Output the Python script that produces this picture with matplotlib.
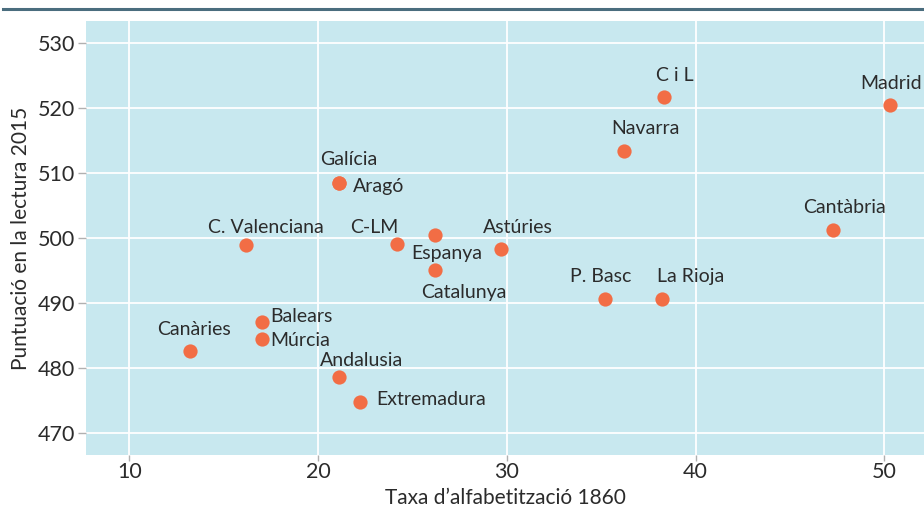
import matplotlib
matplotlib.use("Agg")
import matplotlib.pyplot as plt
from matplotlib.lines import Line2D

plt.rcParams['font.family'] = ['Lato', 'DejaVu Sans']

# ---- data ----
regions = ["Canàries", "Balears", "Múrcia", "C. Valenciana", "Galícia", "Aragó",
           "Andalusia", "Extremadura", "C-LM", "Espanya", "Catalunya", "Astúries",
           "P. Basc", "La Rioja", "Navarra", "C i L", "Cantàbria", "Madrid"]
literacy_1860 = [13.2, 17.0, 17.0, 16.2, 21.1, 21.1,
                 21.1, 22.2, 24.2, 26.2, 26.2, 29.7,
                 35.2, 38.2, 36.2, 38.3, 47.3, 50.3]
reading_2015 = [482.6, 487.0, 484.4, 498.9, 508.4, 508.4,
                478.6, 474.7, 499.1, 500.4, 495.0, 498.2,
                490.6, 490.6, 513.3, 521.6, 501.2, 520.4]
x_ticks = [10, 20, 30, 40, 50]
y_ticks = [470, 480, 490, 500, 510, 520, 530]
x_label = "Taxa d\u2019alfabetització 1860"
y_label = "Puntuació en la lectura 2015"

# ---- label layout (pixel offsets, horizontal alignment) ----
label_layout = {
    "Canàries": (4, 21, 'center'),
    "Balears": (9, 6, 'left'),
    "Múrcia": (9, -1, 'left'),
    "C. Valenciana": (19, 17, 'center'),
    "Galícia": (10, 24, 'center'),
    "Aragó": (14, -3, 'left'),
    "Andalusia": (23, 16, 'center'),
    "Extremadura": (17, 3, 'left'),
    "C-LM": (-23, 16, 'center'),
    "Espanya": (12, -18, 'center'),
    "Catalunya": (29, -22, 'center'),
    "Astúries": (17, 22, 'center'),
    "P. Basc": (-4, 22, 'center'),
    "La Rioja": (29, 22, 'center'),
    "Navarra": (22, 23, 'center'),
    "C i L": (11, 22, 'center'),
    "Cantàbria": (11, 22, 'center'),
    "Madrid": (32, 22, 'right'),
}

bg = '#c8e8ef'
pt_color = '#f26d45'
txt = '#2b2b2b'

fig = plt.figure(figsize=(9.24, 5.11), dpi=100)
ax = fig.add_axes([86/924, 56/511, 1 - 86/924, (455-21)/511])
ax.set_facecolor(bg)

ax.scatter(literacy_1860, reading_2015, s=105, color=pt_color, zorder=3, linewidths=0)

for name, x, y in zip(regions, literacy_1860, reading_2015):
    dx, dy, ha = label_layout[name]
    ax.annotate(name, (x, y), xytext=(dx, dy), textcoords='offset pixels',
                ha=ha, va='center', fontsize=14, color=txt, zorder=4,
                annotation_clip=False, clip_on=False)

ax.set_xlim(7.70, 52.1)
ax.set_ylim(466.57, 533.34)
ax.set_xticks(x_ticks)
ax.set_yticks(y_ticks)
ax.grid(True, color='white', linewidth=1.3)
ax.set_axisbelow(True)
for s in ax.spines.values():
    s.set_visible(False)
ax.tick_params(axis='both', colors='#b0b0b0', labelcolor=txt, labelsize=15.5, width=1)
ax.tick_params(axis='y', pad=2, length=6)
ax.tick_params(axis='x', pad=1, length=4)

ax.set_xlabel(x_label, fontsize=15, color=txt, labelpad=4.5)
ax.set_ylabel(y_label, fontsize=15, color=txt, labelpad=5)

fig.add_artist(Line2D([3/924, 1.0], [1 - 9/511, 1 - 9/511], color='#4a6d7e',
                      linewidth=2.2, transform=fig.transFigure))

fig.savefig("out.png", dpi=100, facecolor='white')
